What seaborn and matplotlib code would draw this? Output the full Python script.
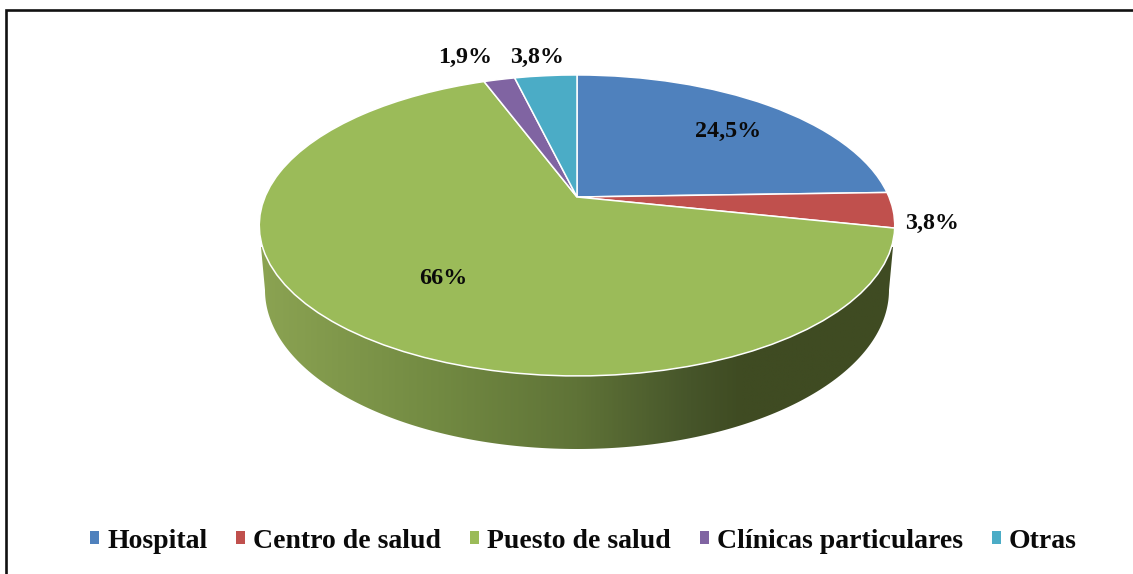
# -*- coding: utf-8 -*-
import numpy as np
import matplotlib
matplotlib.use("Agg")
import matplotlib.pyplot as plt
import seaborn as sns
from matplotlib.colors import LinearSegmentedColormap
from matplotlib.patches import Polygon
from matplotlib.transforms import Transform

categories = ["Hospital", "Centro de salud", "Puesto de salud", "Clínicas particulares", "Otras"]
values = [24.5, 3.8, 66, 1.9, 3.8]
value_labels = ["24,5%", "3,8%", "66%", "1,9%", "3,8%"]
colors = ["#4F81BD", "#C0504D", "#9BBB59", "#8064A2", "#4BACC6"]

#: where each label sits, in image pixels
label_pos = [(728, 131), (932, 223), (443, 279), (465, 57), (537, 57)]

sns.set_theme(style="white", palette=colors)
plt.rcParams["font.family"] = ["Liberation Serif", "DejaVu Serif"]
plt.rcParams["font.weight"] = "bold"


class TiltedPie(Transform):
    """Perspective map of the unit circle onto the tilted pie top."""
    input_dims = 2
    output_dims = 2
    is_separable = False

    def transform_non_affine(self, xy):
        xy = np.asarray(xy)
        d = 1 + 0.189 * xy[:, 1]
        return np.column_stack((577 + 312 * xy[:, 0] / d, 197 - 145.1 * xy[:, 1] / d))


fig = plt.figure(figsize=(11.33, 5.74), dpi=100)
ax = fig.add_axes([0, 0, 1, 1])

wedges, _ = ax.pie(values, colors=sns.color_palette(), startangle=90, counterclock=False,
                   wedgeprops={"edgecolor": "white", "linewidth": 1.1})
warp = TiltedPie() + ax.transData
for w in wedges:
    w.set_transform(warp)
    w.set_zorder(3)

#: side of the cake, only the green slice shows there
t = np.linspace(np.pi, 2 * np.pi, 200)
side = np.column_stack((577 + 312 * np.cos(t), 290 - 159 * np.sin(t)))
side = np.vstack((side, [[893, 247], [261, 247]]))
side_cmap = LinearSegmentedColormap.from_list(
    "side", [(0, "#8BA352"), (0.28, "#728A42"), (0.5, "#5F7337"),
             (0.68, "#46552A"), (0.76, "#3F4B22"), (1, "#3F4B22")])
grad = ax.imshow(np.linspace(0, 1, 400)[None, :], cmap=side_cmap, aspect="auto",
                 extent=(259, 895, 460, 240), zorder=1, interpolation="bilinear")
clip = Polygon(side, closed=True, transform=ax.transData, facecolor="none", edgecolor="none")
ax.add_patch(clip)
grad.set_clip_path(clip)

ax.set_aspect("auto")
ax.set_xlim(0, 1133)
ax.set_ylim(574, 0)
ax.axis("off")

for txt, (x, y) in zip(value_labels, label_pos):
    ax.text(x, y, txt, fontsize=17.3, fontweight="bold", color="#0A0A0A",
            ha="center", va="center", zorder=5)

#: the picture was cropped, only top and left of the frame are left
ax.plot([6, 6, 1133], [574, 10, 10], color="#111111", lw=1.9, zorder=6,
        solid_joinstyle="miter", clip_on=False)

leg = ax.legend(wedges, categories, ncol=5, loc="center", bbox_to_anchor=(583.5, 541),
                bbox_transform=ax.transData, frameon=False, fontsize=20,
                handlelength=0.31, handleheight=0.31, handletextpad=0.3,
                columnspacing=1.045, borderpad=0, labelspacing=0)
for txt in leg.get_texts():
    txt.set_color("#0A0A0A")
    txt.set_fontweight("bold")
for h in leg.legend_handles:
    h.set_linewidth(0)

fig.savefig("out.png", dpi=100)
